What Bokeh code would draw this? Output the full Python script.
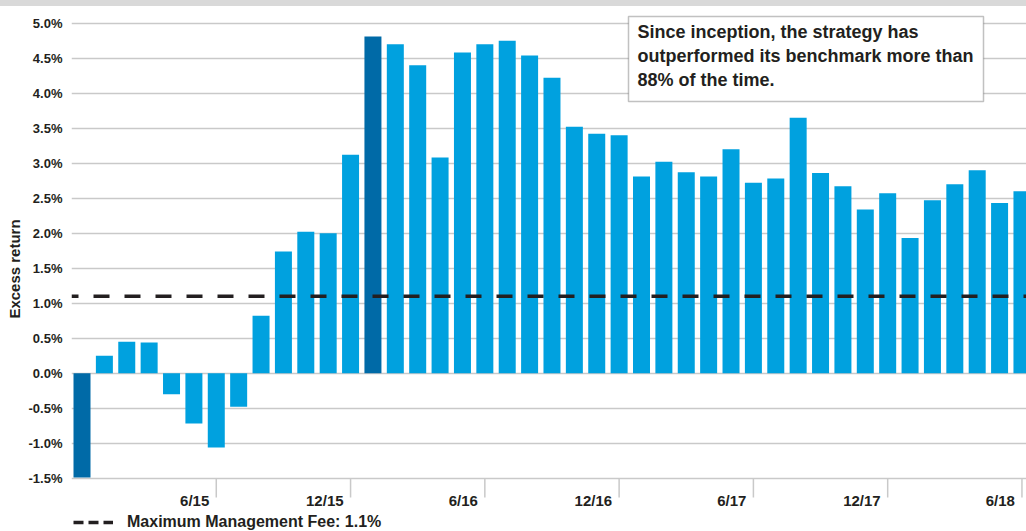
from bokeh.plotting import figure
from bokeh.layouts import column
from bokeh.models import (FixedTicker, PrintfTickFormatter, Span, BoxAnnotation, Div,
                          Label, Legend, LegendItem, ColumnDataSource, Range1d)
from bokeh.embed import file_html
from bokeh.resources import INLINE
from bokeh.core.properties import value

# ---------------- data ----------------
months = []
for k in range(43):
    m = 12 + k
    months.append(f"{(m - 1) % 12 + 1}/{(2014 + (m - 1) // 12) % 100:02d}")

excess_return = [-1.49, 0.25, 0.45, 0.44, -0.30, -0.72, -1.06, -0.48, 0.82, 1.74,
                 2.02, 2.00, 3.12, 4.81, 4.70, 4.40, 3.08, 4.58, 4.70, 4.75,
                 4.54, 4.22, 3.52, 3.42, 3.40, 2.81, 3.02, 2.87, 2.81, 3.20,
                 2.72, 2.78, 3.65, 2.86, 2.67, 2.34, 2.57, 1.93, 2.47, 2.70,
                 2.90, 2.43, 2.60]
highlight_months = ["12/14", "1/16"]
max_fee = 1.1
y_ticks = [-1.5, -1.0, -0.5, 0.0, 0.5, 1.0, 1.5, 2.0, 2.5, 3.0, 3.5, 4.0, 4.5, 5.0]
tick_months = ["6/15", "12/15", "6/16", "12/16", "6/17", "12/17", "6/18"]
note_text = ("Since inception, the strategy has\n"
             "outperformed its benchmark more than\n"
             "88% of the time.")
legend_text = "Maximum Management Fee: 1.1%"

# ---------------- layout helpers (page pixels -> data) ----------------
BAND_H = 6
W, H = 1026, 525
PAGE_X, PAGE_Y = 0, BAND_H
FRAME_LEFT = 71
BAR0_PX, DX = 81.5, 22.38
ZERO_PX, DY = 372.7, 70.0


def xpx(px):
    return (px - BAR0_PX) / DX


def ypx(py):
    return (ZERO_PX - py) / DY


FONT = "Liberation Sans"
TXT = "#231f20"
GRID = "#c9c9c9"
LIGHT = "#00a1df"
DARK = "#006aa7"

x_idx = list(range(len(months)))
colors = [DARK if mth in highlight_months else LIGHT for mth in months]
src = ColumnDataSource(dict(x=x_idx, top=excess_return, month=months, color=colors))

p = figure(width=W, height=H, output_backend="svg", toolbar_location=None,
           x_range=Range1d(xpx(PAGE_X + FRAME_LEFT), xpx(PAGE_X + W)),
           y_range=Range1d(ypx(PAGE_Y + H), ypx(PAGE_Y)),
           x_axis_location=None, y_axis_location="left",
           min_border_left=FRAME_LEFT, min_border_right=0, min_border_top=0,
           min_border_bottom=0)
p.outline_line_color = None
p.background_fill_color = "white"
p.border_fill_color = "white"

# y axis
ax = p.yaxis[0]
ax.ticker = FixedTicker(ticks=y_ticks)
ax.formatter = PrintfTickFormatter(format="%.1f%%")
ax.axis_line_color = None
ax.major_tick_line_color = None
ax.minor_tick_line_color = None
ax.major_tick_out = 0
ax.major_tick_in = 0
ax.major_label_standoff = 9
ax.major_label_text_font = FONT
ax.major_label_text_font_size = "13px"
ax.major_label_text_font_style = "bold"
ax.major_label_text_color = TXT
ax.axis_label = "Excess return"
ax.axis_label_text_font = FONT
ax.axis_label_text_font_size = "15px"
ax.axis_label_text_font_style = "bold"
ax.axis_label_text_color = TXT
ax.axis_label_standoff = 3

p.xgrid.visible = False
p.ygrid.ticker = FixedTicker(ticks=y_ticks)
p.ygrid.grid_line_color = GRID
p.ygrid.grid_line_width = 1.5

# bars
p.vbar(x="x", top="top", bottom=0, width=17 / DX, color="color", source=src, line_color=None)

# x ticks and labels
tick_x = [months.index(t) for t in tick_months]
p.segment(x0=tick_x, x1=tick_x, y0=y_ticks[0], y1=ypx(497), line_color=GRID, line_width=1.5)
p.text(x=tick_x, y=ypx(500), text=tick_months, text_align="right", text_baseline="alphabetic",
       x_offset=-7, text_font=value(FONT), text_font_size="15px", text_font_style="bold",
       text_color=TXT)

# max fee line
p.add_layout(Span(location=max_fee, dimension="width", line_color=TXT, line_width=3.5,
                  line_dash="16 15", line_dash_offset=9))

# legend (sample line kept outside the visible x range; only its legend swatch shows)
legend_line = p.line(x=[-30, -29], y=[max_fee, max_fee], line_color=TXT, line_width=3.5,
                     line_dash="10 5")
legend = Legend(items=[LegendItem(label=legend_text, renderers=[legend_line])],
                location=(2, 0), orientation="horizontal", padding=0, margin=0, spacing=0,
                glyph_width=40, glyph_height=16, label_standoff=14, label_height=16,
                label_text_font=FONT, label_text_font_size="16px", label_text_font_style="bold",
                label_text_color=TXT, border_line_alpha=0, background_fill_alpha=0)
p.add_layout(legend)

# note box
p.add_layout(BoxAnnotation(left=xpx(628), right=xpx(983), top=ypx(16), bottom=ypx(101),
                           fill_color="white", fill_alpha=1.0, line_color="#333333",
                           line_width=1.5))
p.add_layout(Label(x=xpx(637), y=ypx(21), text=note_text, text_font=FONT,
                   text_font_size="18px", text_font_style="bold", text_color=TXT,
                   text_align="left", text_baseline="top", text_line_height=1.2))

band = Div(text="", width=W, height=BAND_H, margin=0,
           styles={"background-color": "#d9d9d9"})
layout = column(band, p, spacing=0, margin=0)

open("out.html", "w").write(file_html(layout, INLINE))
